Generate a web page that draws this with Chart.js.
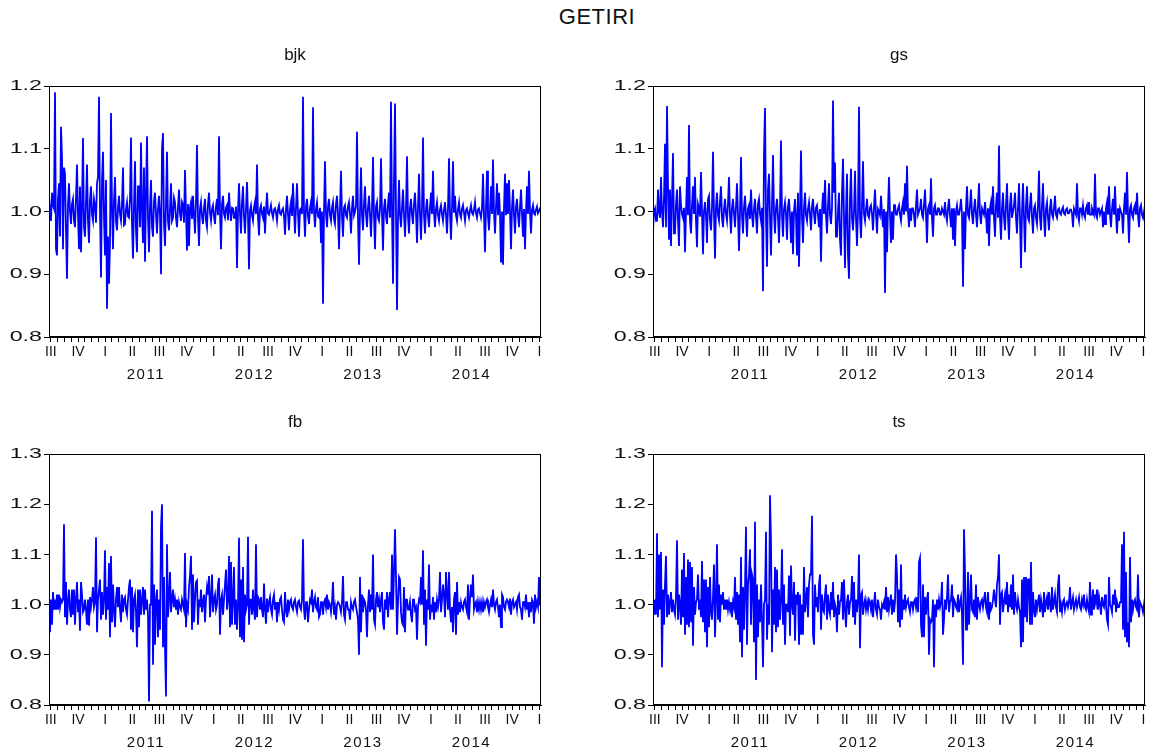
<!DOCTYPE html>
<html>
<head>
<meta charset="utf-8">
<title>GETIRI</title>
<script src="https://cdn.jsdelivr.net/npm/chart.js@4.4.1/dist/chart.umd.min.js"></script>
<style>
  body { margin: 0; width: 1154px; height: 754px; background: #fff; position: relative; overflow: hidden;
         font-family: "Liberation Sans", Arial, sans-serif; }
  #main-title { position: absolute; left: 497px; width: 200px; top: 4px; text-align: center;
                font-size: 22px; letter-spacing: 0.5px; color: #111; }
  canvas { position: absolute; }
</style>
</head>
<body>
<div id="main-title">GETIRI</div>
<canvas id="c-bjk" width="560" height="352" style="left:0;top:38px;width:560px;height:352px"></canvas>
<canvas id="c-gs" width="554" height="352" style="left:600px;top:38px;width:554px;height:352px"></canvas>
<canvas id="c-fb" width="560" height="348" style="left:0;top:406px;width:560px;height:348px"></canvas>
<canvas id="c-ts" width="554" height="348" style="left:600px;top:406px;width:554px;height:348px"></canvas>
<script>
// quarter labels from 2010 Q3 to 2015 Q1, one per quarter
const quarterLabels = ['III', 'IV', 'I', 'II', 'III', 'IV', 'I', 'II', 'III', 'IV',
                       'I', 'II', 'III', 'IV', 'I', 'II', 'III', 'IV', 'I'];
const yearLabels = ['2011', '2012', '2013', '2014'];
const yTicksTop = [0.8, 0.9, 1.0, 1.1, 1.2];
const yTicksBottom = [0.8, 0.9, 1.0, 1.1, 1.2, 1.3];

// daily gross returns, evenly spaced from mid 2010 to early 2015
const bjk = [
  1.025, 1.0, 0.985, 1.03, 1.01, 1.005, 1.19, 0.94, 0.93, 1.02,
  1.045, 0.96, 1.135, 1.085, 0.94, 1.07, 1.06, 0.97, 0.893, 1.01,
  1.045, 1.0, 0.98, 1.012, 1.02, 0.985, 0.975, 1.022, 1.075, 0.995,
  0.94, 1.04, 0.935, 1.006, 1.117, 0.975, 0.96, 1.015, 1.075, 0.985,
  0.95, 1.018, 1.04, 0.995, 0.985, 1.02, 1.01, 0.982, 1.045, 1.055,
  1.183, 1.0, 0.895, 1.05, 1.095, 0.99, 0.93, 1.05, 0.845, 0.96,
  0.885, 0.95, 1.157, 1.004, 0.94, 1.018, 1.055, 0.985, 0.97, 1.006,
  1.025, 0.996, 0.985, 1.012, 1.07, 0.978, 0.98, 1.004, 1.015, 0.992,
  0.99, 1.02, 1.118, 0.98, 0.925, 1.01, 1.08, 0.97, 0.935, 1.04,
  1.04, 0.975, 1.11, 1.0, 0.95, 1.07, 0.92, 1.025, 1.12, 0.99,
  0.935, 1.008, 1.05, 0.975, 0.96, 1.016, 1.03, 0.996, 0.965, 1.004,
  1.025, 0.994, 0.9, 1.1, 1.125, 0.98, 0.945, 1.012, 1.095, 0.985,
  0.97, 1.004, 1.045, 0.985, 0.99, 1.022, 1.015, 0.99, 0.975, 1.006,
  1.035, 0.996, 0.985, 1.015, 1.01, 0.982, 1.066, 0.998, 0.938, 1.012,
  0.945, 1.006, 1.015, 0.988, 1.025, 0.994, 0.965, 1.016, 1.106, 0.99,
  0.945, 1.004, 1.015, 0.992, 0.98, 1.006, 1.02, 0.985, 0.975, 1.012,
  1.03, 0.998, 0.985, 1.004, 1.01, 0.992, 0.98, 1.008, 1.02, 0.994,
  1.12, 1.0, 0.94, 1.012, 1.025, 0.996, 0.99, 1.006, 1.01, 0.986,
  1.03, 1.002, 0.985, 1.006, 1.005, 0.99, 0.99, 1.008, 0.91, 1.0,
  1.045, 0.996, 0.965, 1.014, 1.04, 0.992, 0.965, 1.004, 1.047, 0.994,
  0.908, 1.002, 1.01, 0.994, 0.985, 1.006, 1.015, 0.996, 1.075, 0.99,
  0.962, 1.004, 1.01, 0.996, 0.99, 1.008, 0.965, 1.002, 1.03, 0.997,
  0.995, 1.002, 1.01, 0.997, 0.99, 1.003, 1.005, 0.998, 0.985, 1.004,
  1.01, 0.997, 0.995, 1.002, 1.005, 0.994, 0.963, 1.003, 1.025, 0.996,
  0.97, 1.004, 1.015, 0.993, 1.045, 1.002, 0.965, 1.006, 1.045, 0.998,
  0.96, 1.003, 1.005, 0.996, 1.183, 1.0, 0.96, 1.008, 1.02, 0.993,
  0.98, 1.006, 1.015, 0.996, 1.166, 1.0, 0.975, 1.004, 1.015, 0.992,
  0.99, 1.006, 0.95, 1.0, 0.853, 1.0, 1.08, 0.996, 0.975, 1.008,
  1.02, 0.994, 0.985, 1.006, 1.015, 0.988, 0.98, 1.012, 1.025, 0.996,
  0.94, 1.004, 1.065, 0.992, 0.96, 1.006, 1.01, 0.994, 0.99, 1.008,
  1.015, 0.996, 0.965, 1.005, 1.025, 0.994, 1.0, 1.008, 1.127, 0.99,
  0.915, 1.0, 1.07, 0.994, 0.97, 1.012, 1.04, 0.996, 0.975, 1.006,
  1.025, 0.996, 0.96, 1.004, 1.087, 0.994, 0.94, 1.008, 1.015, 0.99,
  0.985, 1.004, 1.085, 0.996, 0.938, 1.006, 1.02, 0.992, 0.98, 1.012,
  1.03, 0.99, 1.175, 1.0, 0.885, 1.05, 1.172, 1.0, 0.843, 0.99,
  1.05, 0.994, 0.975, 1.006, 1.035, 0.996, 0.96, 1.004, 1.088, 0.992,
  0.965, 1.006, 1.02, 0.994, 0.98, 1.012, 1.03, 0.998, 0.95, 1.004,
  1.06, 0.996, 0.955, 1.008, 1.118, 0.994, 0.965, 1.004, 1.02, 0.992,
  0.975, 1.006, 1.03, 0.996, 1.065, 0.998, 0.975, 1.004, 1.015, 0.994,
  0.985, 1.003, 1.01, 0.996, 0.985, 1.002, 1.015, 0.994, 0.965, 1.004,
  1.085, 0.996, 0.955, 1.006, 1.08, 0.998, 1.025, 0.994, 0.985, 1.004,
  1.015, 0.996, 0.99, 1.004, 1.01, 0.998, 0.985, 1.002, 1.005, 0.997,
  0.99, 1.002, 1.01, 0.998, 0.995, 1.003, 1.015, 0.997, 0.99, 1.003,
  1.005, 0.997, 0.99, 1.004, 1.06, 0.994, 0.935, 1.006, 1.065, 0.992,
  0.97, 1.004, 1.04, 0.996, 1.083, 1.0, 0.965, 1.008, 1.045, 0.994,
  1.03, 0.996, 0.92, 1.0, 0.915, 1.006, 1.06, 0.994, 1.045, 0.996,
  1.05, 1.0, 0.94, 1.006, 1.035, 0.994, 0.965, 1.008, 1.02, 0.994,
  0.975, 1.006, 1.035, 0.996, 0.96, 1.004, 0.94, 1.0, 1.04, 0.996,
  1.065, 1.0, 0.965, 1.003, 1.01, 0.997, 0.995, 1.003, 1.008, 0.997,
  1.0, 1.005, 1.008
];
const gs = [
  0.97, 1.0, 1.005, 0.985, 0.985, 1.035, 1.0, 0.99, 1.055, 1.0,
  0.975, 1.02, 1.108, 0.975, 1.168, 1.04, 0.955, 1.035, 0.945, 1.02,
  1.093, 0.965, 0.965, 1.012, 1.035, 0.985, 0.945, 1.04, 1.01, 0.996,
  0.99, 1.006, 0.935, 1.0, 1.055, 0.994, 1.138, 0.985, 0.965, 1.01,
  1.04, 0.996, 1.055, 0.985, 0.943, 1.012, 1.005, 0.992, 1.063, 1.0,
  0.932, 1.0, 1.015, 0.994, 0.95, 1.02, 1.025, 0.986, 0.97, 1.006,
  1.095, 0.996, 0.925, 1.008, 1.03, 0.994, 0.985, 1.016, 1.04, 0.99,
  0.975, 1.004, 1.02, 0.996, 0.985, 1.012, 1.055, 0.994, 0.965, 1.006,
  1.02, 0.996, 0.975, 1.008, 1.045, 0.994, 0.937, 1.0, 1.087, 0.992,
  0.965, 1.006, 1.025, 0.994, 0.96, 1.005, 1.01, 0.988, 1.035, 0.996,
  0.975, 1.004, 1.02, 0.992, 0.965, 1.012, 1.02, 0.996, 0.985, 1.006,
  0.873, 1.093, 1.165, 0.99, 0.912, 1.035, 1.06, 0.99, 0.93, 1.01,
  1.09, 0.996, 0.965, 1.006, 1.02, 0.992, 0.95, 1.004, 1.113, 0.994,
  0.96, 1.004, 1.015, 0.996, 0.955, 1.008, 1.02, 0.994, 0.95, 1.0,
  0.932, 1.0, 1.02, 0.99, 0.93, 1.03, 0.912, 1.0, 1.097, 0.99,
  0.95, 1.006, 1.03, 0.994, 0.985, 1.004, 1.015, 0.996, 0.97, 1.008,
  1.02, 0.996, 0.98, 1.006, 1.01, 0.994, 0.975, 1.004, 0.92, 1.0,
  1.03, 0.996, 1.05, 0.994, 0.965, 1.008, 1.045, 0.994, 0.98, 1.006,
  1.177, 1.03, 1.078, 0.96, 0.96, 1.0, 1.03, 0.955, 0.93, 1.03,
  1.084, 0.99, 0.91, 1.0, 1.06, 0.93, 0.893, 1.02, 1.068, 0.99,
  0.97, 1.0, 1.065, 0.99, 0.945, 1.0, 1.167, 0.99, 0.958, 1.01,
  1.08, 0.996, 0.985, 1.004, 1.02, 0.994, 0.99, 1.006, 1.01, 0.996,
  0.97, 1.006, 1.035, 0.996, 0.965, 1.004, 1.0, 0.994, 1.025, 0.996,
  0.975, 1.004, 0.87, 1.0, 0.935, 1.006, 1.055, 0.994, 0.95, 1.0,
  0.955, 1.01, 1.01, 0.995, 0.995, 1.005, 1.01, 0.995, 0.985, 1.005,
  1.015, 0.995, 1.045, 1.0, 1.073, 1.0, 0.975, 1.005, 0.985, 1.005,
  1.005, 0.995, 0.975, 1.01, 1.035, 0.995, 1.0, 1.005, 1.02, 0.995,
  0.99, 1.01, 1.035, 0.995, 0.95, 1.005, 1.01, 0.995, 1.053, 0.99,
  0.96, 1.005, 1.01, 0.995, 0.995, 1.005, 1.005, 0.995, 0.995, 1.005,
  1.0, 0.995, 1.015, 0.995, 0.985, 1.005, 1.02, 0.995, 0.975, 1.005,
  0.955, 1.005, 0.945, 1.0, 1.01, 0.995, 0.995, 1.005, 1.02, 0.995,
  0.88, 1.0, 0.94, 1.005, 1.04, 0.995, 0.99, 1.01, 1.035, 0.995,
  0.98, 1.005, 1.02, 0.995, 0.975, 1.01, 1.045, 0.995, 0.98, 1.005,
  1.0, 0.995, 1.015, 0.995, 0.965, 1.005, 0.945, 1.005, 1.015, 0.995,
  1.04, 0.99, 0.96, 1.01, 1.03, 0.99, 1.105, 0.99, 0.955, 1.005,
  1.03, 0.99, 0.97, 1.01, 1.045, 0.99, 0.955, 1.01, 1.03, 0.99,
  1.0, 1.01, 1.03, 0.99, 0.965, 1.005, 1.045, 0.99, 0.91, 1.0,
  1.045, 0.99, 0.935, 1.01, 1.04, 0.99, 0.985, 1.01, 1.03, 0.99,
  0.965, 1.005, 1.01, 0.99, 0.98, 1.01, 1.065, 0.99, 0.97, 1.01,
  1.045, 0.99, 0.96, 1.005, 1.015, 0.99, 0.97, 1.005, 1.02, 0.995,
  0.99, 1.005, 1.025, 0.995, 0.99, 1.003, 1.005, 0.997, 0.995, 1.003,
  1.007, 0.997, 0.995, 1.003, 1.005, 0.997, 0.997, 1.003, 1.003, 0.997,
  0.975, 1.005, 1.0, 0.995, 1.045, 0.995, 0.985, 1.005, 1.005, 0.995,
  1.01, 0.995, 0.99, 1.005, 1.01, 0.995, 1.015, 0.995, 0.995, 1.005,
  1.0, 0.995, 1.06, 0.995, 0.99, 1.005, 1.005, 0.995, 1.0, 1.005,
  0.975, 1.0, 0.98, 1.005, 1.015, 0.995, 1.04, 0.995, 0.975, 1.005,
  1.02, 0.995, 1.04, 0.995, 0.965, 1.005, 0.985, 1.005, 1.0, 0.995,
  0.965, 1.005, 1.03, 0.995, 1.063, 0.995, 0.95, 1.005, 1.01, 0.995,
  0.99, 1.005, 1.01, 0.995, 1.03, 0.995, 0.975, 1.005, 1.01, 0.995,
  0.99, 1.0, 0.985
];
const fb = [
  1.005, 0.945, 1.01, 0.96, 1.025, 0.99, 1.01, 0.99, 1.02, 0.99,
  1.02, 0.995, 1.01, 1.005, 1.01, 1.16, 0.975, 1.045, 0.96, 1.005,
  1.03, 0.99, 0.975, 1.03, 0.98, 1.03, 0.96, 1.01, 1.045, 0.985,
  1.01, 0.948, 1.045, 1.02, 0.985, 0.99, 1.01, 0.99, 0.96, 1.01,
  0.958, 1.015, 0.995, 1.01, 1.035, 0.995, 1.005, 1.134, 0.945, 1.01,
  1.03, 1.05, 0.97, 1.025, 0.98, 1.01, 1.108, 0.97, 1.035, 0.99,
  1.083, 0.935, 1.097, 0.965, 1.04, 0.99, 0.955, 1.01, 1.035, 0.995,
  1.035, 0.99, 0.965, 1.02, 0.985, 1.01, 1.015, 0.99, 0.98, 1.01,
  1.035, 1.05, 0.95, 1.035, 0.945, 1.01, 1.02, 0.985, 0.915, 1.03,
  0.955, 1.03, 0.98, 1.01, 1.035, 0.98, 1.03, 0.99, 1.01, 0.98,
  0.807, 1.0, 1.0, 1.187, 0.88, 1.04, 0.92, 1.01, 1.03, 0.935,
  1.01, 0.95, 1.155, 1.2, 0.915, 1.055, 0.915, 0.817, 1.12, 0.975,
  1.01, 1.065, 0.985, 1.01, 1.03, 0.995, 1.01, 0.99, 1.01, 0.98,
  1.005, 0.995, 0.99, 1.01, 1.0, 0.99, 1.103, 0.955, 1.0, 0.99,
  1.035, 1.058, 1.097, 0.95, 1.06, 0.965, 1.01, 1.045, 1.048, 0.96,
  1.01, 0.995, 1.03, 0.985, 1.005, 1.02, 0.965, 1.01, 1.035, 1.02,
  1.057, 0.975, 1.01, 1.06, 0.985, 1.01, 1.02, 0.99, 1.0, 1.04,
  1.053, 0.94, 1.01, 1.02, 0.98, 1.01, 1.04, 1.07, 0.99, 1.01,
  1.097, 0.955, 1.085, 0.96, 1.01, 1.075, 0.96, 1.01, 0.95, 1.0,
  1.133, 0.935, 1.05, 0.93, 1.075, 0.925, 1.02, 0.99, 1.0, 1.135,
  0.96, 1.01, 1.01, 0.98, 1.03, 0.99, 0.97, 1.12, 0.975, 1.015,
  1.01, 0.99, 1.015, 0.99, 0.975, 1.042, 0.99, 0.962, 1.012, 0.985,
  1.005, 1.015, 0.99, 0.98, 1.01, 1.02, 0.99, 1.005, 0.965, 1.005,
  0.99, 1.01, 1.015, 0.99, 0.97, 0.965, 1.025, 0.99, 0.975, 1.01,
  0.99, 1.005, 1.01, 0.995, 0.99, 1.005, 1.01, 0.995, 0.985, 1.005,
  1.008, 0.995, 0.99, 1.01, 1.13, 0.99, 0.97, 1.005, 1.005, 0.965,
  0.99, 1.01, 1.005, 1.03, 0.985, 1.005, 1.015, 0.995, 0.99, 1.015,
  0.975, 0.98, 1.005, 1.005, 0.98, 1.005, 1.01, 0.995, 1.02, 0.99,
  1.005, 1.0, 0.985, 1.005, 1.045, 0.98, 0.995, 0.97, 1.0, 1.005,
  1.002, 0.995, 0.985, 1.005, 1.057, 0.98, 0.97, 1.005, 1.005, 0.99,
  0.99, 0.97, 1.005, 0.995, 0.99, 1.005, 1.01, 0.995, 0.985, 0.97,
  0.9, 1.055, 0.945, 1.02, 0.985, 1.01, 1.005, 0.99, 0.935, 1.0,
  1.03, 0.985, 1.02, 0.99, 1.1, 0.97, 0.96, 1.01, 1.025, 0.995,
  1.01, 0.985, 1.01, 1.025, 0.965, 0.95, 1.01, 0.99, 1.025, 0.975,
  1.01, 1.025, 0.99, 1.1, 0.99, 1.065, 1.15, 1.055, 0.94, 1.005,
  1.055, 1.05, 0.985, 0.965, 0.96, 1.035, 0.945, 1.01, 1.01, 0.99,
  0.99, 1.005, 0.98, 0.965, 1.01, 1.01, 0.99, 0.995, 0.93, 0.995,
  1.01, 1.005, 1.055, 1.0, 1.108, 0.96, 1.03, 0.918, 1.01, 0.99,
  1.08, 0.97, 1.0, 0.985, 1.015, 0.97, 1.005, 0.985, 1.01, 0.995,
  1.01, 1.065, 0.985, 1.01, 1.04, 1.02, 0.975, 1.065, 1.02, 0.99,
  1.065, 0.99, 0.965, 0.995, 0.945, 1.01, 1.025, 0.94, 1.045, 0.98,
  1.005, 0.985, 1.005, 0.995, 0.99, 1.005, 1.01, 0.995, 0.985, 1.04,
  0.97, 1.01, 1.04, 1.015, 1.06, 0.99, 1.0, 1.005, 0.985, 1.005,
  0.99, 1.005, 0.99, 1.005, 0.985, 1.005, 0.995, 1.005, 1.01, 0.995,
  0.985, 1.0, 1.01, 0.995, 1.03, 1.0, 0.99, 1.005, 1.01, 0.995,
  0.975, 1.0, 0.955, 1.02, 1.015, 0.995, 0.99, 1.005, 1.01, 1.005,
  0.995, 1.012, 0.98, 1.005, 1.01, 0.995, 1.0, 1.005, 0.99, 1.015,
  1.02, 0.995, 0.99, 0.97, 1.005, 1.005, 0.995, 1.02, 0.99, 1.005,
  0.975, 1.005, 0.985, 1.01, 1.005, 0.962, 1.02, 0.995, 1.005, 0.995,
  1.055, 1.0, 1.0
];
const ts = [
  1.01, 0.98, 1.01, 0.98, 1.142, 0.975, 1.1, 0.99, 1.105, 0.875,
  1.03, 0.96, 1.04, 1.097, 0.975, 1.02, 0.98, 1.005, 1.025, 0.985,
  1.01, 0.99, 0.98, 1.015, 1.128, 0.97, 1.02, 1.0, 0.96, 1.07,
  0.975, 1.103, 0.94, 1.055, 0.96, 1.09, 0.955, 1.085, 0.965, 1.075,
  0.918, 1.035, 0.98, 1.005, 1.01, 1.06, 0.99, 1.01, 0.975, 1.087,
  0.965, 1.05, 0.945, 1.05, 0.915, 1.035, 0.955, 1.055, 0.985, 0.97,
  1.015, 1.08, 0.935, 1.01, 1.12, 0.97, 1.04, 0.965, 1.02, 1.0,
  1.025, 0.99, 1.01, 0.99, 1.01, 0.99, 1.005, 0.99, 1.005, 0.975,
  1.005, 0.995, 1.055, 0.97, 1.025, 0.96, 1.02, 0.925, 1.095, 0.895,
  1.035, 0.95, 1.03, 1.155, 0.92, 1.04, 1.06, 1.11, 0.96, 1.06,
  1.05, 0.925, 1.165, 0.85, 1.04, 0.935, 1.01, 0.965, 1.04, 0.97,
  0.875, 1.0, 1.01, 1.145, 0.93, 1.0, 0.96, 1.218, 1.125, 0.905,
  1.03, 0.96, 1.075, 0.945, 1.07, 0.955, 1.03, 0.97, 1.01, 1.11,
  0.96, 1.04, 0.92, 1.0, 1.0, 0.985, 1.058, 0.938, 1.078, 1.0,
  0.98, 1.045, 0.928, 1.02, 1.0, 1.025, 0.92, 1.02, 0.94, 1.0,
  0.94, 1.075, 0.985, 1.01, 1.035, 0.975, 1.04, 1.06, 1.06, 1.177,
  0.94, 0.92, 1.04, 0.995, 1.015, 0.985, 1.04, 1.06, 0.95, 1.02,
  0.99, 0.985, 1.02, 1.04, 0.97, 1.02, 0.99, 0.98, 1.025, 0.99,
  1.045, 0.975, 1.0, 0.99, 0.945, 1.02, 0.98, 1.005, 1.01, 1.045,
  0.97, 1.05, 0.99, 0.955, 1.005, 1.02, 0.98, 1.005, 1.01, 1.057,
  0.975, 1.045, 0.96, 1.01, 0.985, 1.01, 1.1, 0.913, 1.02, 1.025,
  0.98, 1.0, 1.01, 0.99, 1.005, 0.99, 1.01, 1.005, 0.99, 1.01,
  0.975, 1.0, 1.025, 0.99, 0.98, 1.01, 0.995, 0.99, 0.97, 1.0,
  0.995, 1.005, 0.99, 1.035, 0.985, 1.015, 0.99, 1.005, 1.02, 0.98,
  1.01, 0.985, 1.005, 1.1, 1.06, 0.965, 1.03, 0.955, 1.08, 0.97,
  1.01, 0.99, 1.02, 0.995, 1.005, 1.01, 0.995, 0.985, 1.005, 1.005,
  0.99, 1.005, 1.01, 0.995, 1.015, 0.985, 1.085, 1.093, 0.96, 0.935,
  1.04, 0.935, 1.015, 0.98, 1.01, 1.025, 0.9, 0.97, 0.965, 0.97,
  1.01, 0.875, 1.0, 0.975, 1.01, 0.99, 1.01, 0.995, 1.005, 1.045,
  0.94, 0.97, 1.01, 0.99, 1.015, 1.06, 0.985, 1.005, 1.01, 1.04,
  0.975, 1.01, 1.005, 0.995, 0.99, 1.02, 0.985, 1.005, 1.015, 0.98,
  0.88, 1.15, 1.065, 0.95, 0.95, 1.065, 0.96, 1.005, 1.06, 0.99,
  0.985, 1.01, 0.975, 1.04, 0.97, 1.015, 1.0, 0.99, 1.005, 1.01,
  0.995, 1.01, 1.025, 0.995, 0.985, 1.025, 0.97, 1.005, 0.99, 0.995,
  1.01, 1.03, 1.01, 0.995, 1.04, 1.055, 1.1, 0.96, 1.02, 1.025,
  0.985, 1.005, 1.02, 1.0, 1.045, 0.985, 1.02, 0.995, 1.04, 0.99,
  1.06, 0.98, 1.025, 1.0, 0.99, 1.01, 0.995, 0.985, 0.915, 1.05,
  0.925, 1.055, 0.975, 1.055, 0.965, 1.05, 1.05, 0.96, 1.085, 0.96,
  1.025, 0.99, 0.975, 1.01, 0.99, 1.005, 1.02, 0.985, 1.01, 0.995,
  0.975, 1.025, 0.985, 1.005, 1.015, 0.99, 1.025, 1.0, 0.985, 1.035,
  0.99, 1.005, 1.02, 0.995, 0.985, 1.04, 1.06, 0.985, 1.0, 0.985,
  1.005, 1.01, 0.99, 1.0, 1.005, 0.995, 1.005, 1.035, 0.99, 1.005,
  1.015, 0.99, 1.0, 1.01, 0.995, 1.005, 1.015, 0.995, 0.99, 1.01,
  1.0, 1.02, 0.995, 0.99, 1.01, 0.995, 0.985, 1.045, 0.98, 1.005,
  1.03, 0.99, 1.02, 1.005, 1.03, 0.99, 1.015, 1.0, 0.98, 1.015,
  1.0, 0.995, 1.02, 1.0, 0.97, 0.96, 1.055, 1.0, 0.995, 0.985,
  1.02, 1.0, 1.03, 0.985, 1.005, 0.995, 0.995, 1.005, 1.005, 1.12,
  0.95, 1.145, 0.935, 1.065, 0.925, 0.965, 0.915, 1.095, 0.965, 1.01,
  0.99, 1.005, 1.01, 0.995, 0.99, 1.06, 0.975, 1.005, 1.0, 0.995,
  0.985, 1.0, 0.985
];

const FONT = '"Liberation Sans", Arial, sans-serif';
Chart.defaults.font.family = FONT;

// x axis is measured in quarters, 0 = start of 2010 Q3
const xMin = -0.07;
const xMax = quarterLabels.length - 1 + 0.06;
const firstQ1 = quarterLabels.indexOf('I');

// draws the closed box round the plot area
const framePlugin = {
  id: 'frame',
  afterDraw(chart) {
    const { ctx, chartArea: a } = chart;
    ctx.save();
    ctx.strokeStyle = '#000';
    ctx.lineWidth = 1;
    ctx.strokeRect(a.left + 0.5, a.top + 0.5, a.right - a.left - 1, a.bottom - a.top - 1);
    ctx.restore();
  }
};

// the picture's value labels are drawn wide, so stretch them sideways from their right edge
function widenYLabels(scale, factor) {
  if (scale.widened) return;
  scale.widened = true;
  const draw = scale.drawLabels;
  scale.drawLabels = function (area) {
    const ctx = this.ctx;
    const anchor = this.right - this.options.grid.tickLength - this.options.ticks.padding;
    ctx.save();
    ctx.translate(anchor, 0);
    ctx.scale(factor, 1);
    ctx.translate(-anchor, 0);
    draw.call(this, area);
    ctx.restore();
  };
}

// year labels are spaced a little wider too
function spaceLabels(scale, spacing) {
  if (scale.spaced) return;
  scale.spaced = true;
  const draw = scale.drawLabels;
  scale.drawLabels = function (area) {
    this.ctx.save();
    this.ctx.letterSpacing = spacing;
    draw.call(this, area);
    this.ctx.restore();
  };
}

const panels = [
  { id: 'c-bjk', title: 'bjk', values: bjk, yTicks: yTicksTop, axisW: 49, padRight: 19, titleTop: 7, yearH: 27 },
  { id: 'c-gs', title: 'gs', values: gs, yTicks: yTicksTop, axisW: 53, padRight: 9, titleTop: 7, yearH: 27 },
  { id: 'c-fb', title: 'fb', values: fb, yTicks: yTicksBottom, axisW: 49, padRight: 19, titleTop: 6, yearH: 23 },
  { id: 'c-ts', title: 'ts', values: ts, yTicks: yTicksBottom, axisW: 53, padRight: 9, titleTop: 6, yearH: 23 }
];

function makeChart(p) {
  const n = p.values.length;
  const step = (xMax - xMin) / (n - 1);
  const points = p.values.map((v, i) => ({ x: xMin + i * step, y: v }));
  const titleSize = 17;

  return new Chart(document.getElementById(p.id), {
    type: 'line',
    data: {
      datasets: [{
        data: points,
        borderColor: '#0000ff',
        borderWidth: 1.8,
        pointRadius: 0,
        tension: 0,
        fill: false
      }]
    },
    options: {
      responsive: false,
      animation: false,
      events: [],
      layout: { padding: { left: 0, right: p.padRight, top: 0, bottom: 0 } },
      plugins: {
        legend: { display: false },
        tooltip: { enabled: false },
        title: {
          display: true,
          text: p.title,
          fullSize: false,
          color: '#111',
          font: { size: titleSize, weight: 'normal', lineHeight: 1.2 },
          padding: { top: p.titleTop, bottom: 48 - titleSize * 1.2 - p.titleTop }
        }
      },
      scales: {
        x: {
          type: 'linear',
          position: 'bottom',
          weight: 0,
          min: xMin,
          max: xMax,
          afterBuildTicks: (s) => {
            const t = [];
            for (let q = 0; q <= quarterLabels.length - 1; q += 0.25) t.push({ value: q });
            s.ticks = t;
          },
          afterFit: (s) => { s.height = 26; s.paddingLeft = 0; s.paddingRight = 0; },
          ticks: {
            autoSkip: false,
            maxRotation: 0,
            padding: 2,
            color: '#111',
            font: { size: 14 },
            callback: (v) => (Number.isInteger(v) ? quarterLabels[v] : '')
          },
          grid: { drawOnChartArea: false, tickLength: 5, color: '#000', tickColor: '#000' },
          border: { color: '#000', width: 1 }
        },
        year: {
          type: 'linear',
          position: 'bottom',
          weight: 1,
          min: xMin,
          max: xMax,
          afterBuildTicks: (s) => {
            s.ticks = yearLabels.map((_, k) => ({ value: firstQ1 + 4 * k + 1.5 }));
          },
          afterFit: (s) => {
            s.height = p.yearH; s.paddingLeft = 0; s.paddingRight = 0;
            spaceLabels(s, '1.5px');
          },
          ticks: {
            autoSkip: false,
            maxRotation: 0,
            padding: 3,
            color: '#111',
            font: { size: 15 },
            callback: (v, i) => yearLabels[i]
          },
          grid: { display: false, drawTicks: false },
          border: { display: false }
        },
        y: {
          type: 'linear',
          min: p.yTicks[0],
          max: p.yTicks[p.yTicks.length - 1],
          afterBuildTicks: (s) => { s.ticks = p.yTicks.map((v) => ({ value: v })); },
          afterFit: (s) => {
            s.width = p.axisW; s.paddingTop = 0; s.paddingBottom = 0;
            widenYLabels(s, 1.55);
          },
          ticks: {
            padding: 2,
            color: '#111',
            font: { size: 15 },
            callback: (v) => v.toFixed(1)
          },
          grid: { drawOnChartArea: false, tickLength: 5, color: '#000', tickColor: '#000' },
          border: { color: '#000', width: 1 }
        }
      }
    },
    plugins: [framePlugin]
  });
}

panels.forEach(makeChart);
</script>
</body>
</html>
